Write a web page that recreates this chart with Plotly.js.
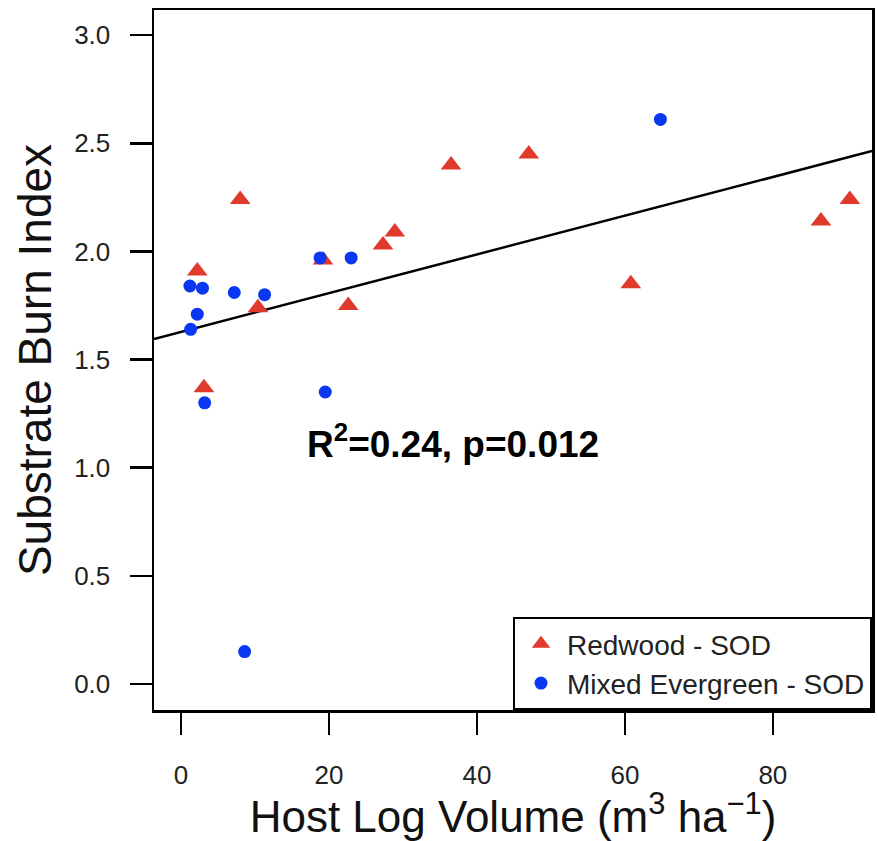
<!DOCTYPE html>
<html>
<head>
<meta charset="utf-8">
<script src="https://cdn.plot.ly/plotly-3.0.1.min.js"></script>
<style>html,body{margin:0;padding:0;background:#fff;}#chart{width:878px;height:841px;}</style>
</head>
<body>
<div id="chart"></div>
<script>
// Redwood - SOD (red triangles)
const redwoodX = [2.2, 8.0, 3.1, 10.4, 19.2, 22.6, 27.3, 28.9, 36.5, 47.0, 60.8, 86.5, 90.4];
const redwoodY = [1.91, 2.24, 1.37, 1.74, 1.96, 1.75, 2.03, 2.09, 2.40, 2.45, 1.85, 2.14, 2.24];
// Mixed Evergreen - SOD (blue circles)
const mixedX = [1.2, 2.9, 7.2, 11.3, 2.2, 1.3, 3.2, 18.8, 23.0, 19.5, 8.6, 64.8];
const mixedY = [1.84, 1.83, 1.81, 1.80, 1.71, 1.64, 1.30, 1.97, 1.97, 1.35, 0.15, 2.61];
// Regression fit
const fitIntercept = 1.628;
const fitSlope = 0.00895;
const xRange = [-3.65, 93.4];
const yRange = [-0.12, 3.116];
const xTicks = [0, 20, 40, 60, 80];
const yTicks = [0.0, 0.5, 1.0, 1.5, 2.0, 2.5, 3.0];
const yTickText = ['0.0', '0.5', '1.0', '1.5', '2.0', '2.5', '3.0'];

const FONT = 'Liberation Sans, Arial, Helvetica, sans-serif';

const fitX = xRange.slice();
const fitY = fitX.map(x => fitIntercept + fitSlope * x);

const traces = [
  {x: fitX, y: fitY, mode: 'lines', line: {color: '#000', width: 2.5}, showlegend: false, hoverinfo: 'skip'},
  {x: redwoodX, y: redwoodY, mode: 'markers', name: 'Redwood - SOD',
   marker: {symbol: 'triangle-up', size: 18, color: '#E03A2C', line: {width: 0}}},
  {x: mixedX, y: mixedY, mode: 'markers', name: 'Mixed Evergreen - SOD',
   marker: {symbol: 'circle', size: 13, color: '#0A37F2', line: {width: 0}}}
];

const layout = {
  width: 878, height: 841,
  margin: {l: 154, r: 6, t: 10, b: 131},
  paper_bgcolor: '#fff', plot_bgcolor: '#fff',
  font: {family: FONT, color: '#222'},
  showlegend: true,
  legend: {
    x: 1, y: 0, xanchor: 'right', yanchor: 'bottom',
    bgcolor: '#fff', bordercolor: '#000', borderwidth: 2,
    font: {size: 28, family: FONT, color: '#222'},
    itemwidth: 42,
    traceorder: 'normal'
  },
  xaxis: {
    range: xRange, tickvals: xTicks, ticktext: xTicks.map(String),
    showgrid: false, zeroline: false,
    showline: true, mirror: true, linecolor: '#000', linewidth: 2.5,
    ticks: 'outside', ticklen: 22, tickwidth: 2.5, tickcolor: '#000',
    ticklabelstandoff: 18,
    tickfont: {size: 26, family: FONT, color: '#222'},
    title: {text: 'Host Log Volume (m<sup>3</sup> ha<sup>\u22121</sup>)', font: {size: 44, family: FONT, color: '#111'}, standoff: 6}
  },
  yaxis: {
    range: yRange, tickvals: yTicks, ticktext: yTickText,
    showgrid: false, zeroline: false,
    showline: true, mirror: true, linecolor: '#000', linewidth: 2.5,
    ticks: 'outside', ticklen: 22, tickwidth: 2.5, tickcolor: '#000',
    ticklabelstandoff: 14,
    tickfont: {size: 26, family: FONT, color: '#222'},
    title: {text: 'Substrate Burn Index', font: {size: 46, family: FONT, color: '#111'}, standoff: 8}
  },
  annotations: [{
    x: 16.7, y: 1.12, xref: 'x', yref: 'y', xanchor: 'left', yanchor: 'middle',
    text: '<b>R<sup>2</sup>=0.24, p=0.012</b>', showarrow: false,
    font: {size: 37, family: FONT, color: '#000'}
  }]
};

Plotly.newPlot('chart', traces, layout, {displayModeBar: false, staticPlot: true});
</script>
</body>
</html>
